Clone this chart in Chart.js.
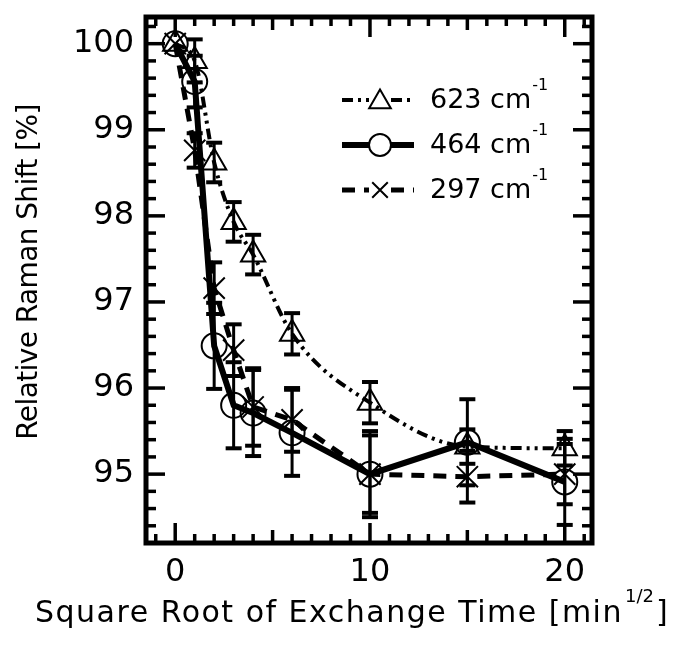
<!DOCTYPE html>
<html><head><meta charset="utf-8">
<script src="https://cdn.jsdelivr.net/npm/chart.js@4/dist/chart.umd.min.js"></script>
<style>html,body{margin:0;padding:0;background:#fff}#wrap{width:687px;height:661px;position:relative}</style>
</head><body><div id="wrap"><canvas id="c" width="687" height="661"></canvas></div>
<script>
// ---- data ----
const xValues   = [0, 1, 2, 3, 4, 6, 10, 15, 20];
const shift623  = [100, 99.8, 98.62, 97.93, 97.55, 96.63, 95.83, 95.32, 95.3];
const err623    = [0, 0.25, 0.23, 0.23, 0.23, 0.24, 0.24, 0.2, 0.2];
const shift464  = [100, 99.56, 96.49, 95.8, 95.71, 95.48, 95.0, 95.37, 94.91];
const err464    = [0, 0.3, 0.5, 0.5, 0.5, 0.5, 0.5, 0.5, 0.5];
const shift297  = [100, 98.76, 97.16, 96.44, 95.78, 95.63, 95.0, 94.97, 95.0];
const err297    = [0, 0.2, 0.3, 0.3, 0.45, 0.37, 0.45, 0.3, 0.35];
const xTickLabels = [0, 10, 20];
const yTickLabels = [95, 96, 97, 98, 99, 100];
const seriesNames = ['623', '464', '297'];
const xTitle = 'Square Root of Exchange Time [min';
const xTitleSup = '1/2';
const yTitle = 'Relative Raman Shift [%]';

const FONT = '"DejaVu Sans", sans-serif';
Chart.defaults.font.family = FONT;
Chart.defaults.color = '#000';

const mk = vals => xValues.map((x, i) => ({x, y: vals[i]}));
const styles = [
  {dash: [11,5,3,5,3,5], width: 4, point: 'triangle', r: 14},
  {dash: [], width: 6, point: 'circle', r: 12.5},
  {dash: [13,9], width: 5, point: 'crossRot', r: 15}
];
const values = [shift623, shift464, shift297];
const errors = [err623, err464, err297];
const datasets = seriesNames.map((n, i) => ({
  label: n + ' cm-1',
  data: mk(values[i]),
  errors: errors[i],
  borderColor: '#000',
  borderWidth: styles[i].width,
  borderDash: styles[i].dash,
  pointStyle: styles[i].point,
  pointRadius: styles[i].r,
  pointBorderWidth: 2,
  pointBorderColor: '#000',
  pointBackgroundColor: 'rgba(0,0,0,0)',
  tension: 0,
  cubicInterpolationMode: i === 0 ? 'monotone' : 'default',
  fill: false
}));

function seg(ctx, x1, y1, x2, y2) { ctx.beginPath(); ctx.moveTo(x1, y1); ctx.lineTo(x2, y2); ctx.stroke(); }

function marker(ctx, style, cx, cy, r) {
  ctx.save();
  ctx.lineWidth = 2; ctx.strokeStyle = '#000'; ctx.fillStyle = '#fff';
  ctx.beginPath();
  if (style === 'triangle') {
    let a = 0;
    ctx.moveTo(cx + Math.sin(a) * r, cy - Math.cos(a) * r);
    a += 2 * Math.PI / 3; ctx.lineTo(cx + Math.sin(a) * r, cy - Math.cos(a) * r);
    a += 2 * Math.PI / 3; ctx.lineTo(cx + Math.sin(a) * r, cy - Math.cos(a) * r);
    ctx.closePath(); ctx.fill(); ctx.stroke();
  } else if (style === 'circle') {
    ctx.arc(cx, cy, r, 0, Math.PI * 2); ctx.fill(); ctx.stroke();
  } else {
    const d = r * Math.SQRT1_2;
    ctx.moveTo(cx - d, cy - d); ctx.lineTo(cx + d, cy + d);
    ctx.moveTo(cx + d, cy - d); ctx.lineTo(cx - d, cy + d); ctx.stroke();
  }
  ctx.restore();
}

const decor = {
  id: 'decor',
  afterDatasetsDraw(chart) {
    const {ctx, scales: {x, y}} = chart;
    ctx.save();
    ctx.strokeStyle = '#000';
    chart.data.datasets.forEach(ds => {
      ds.errors.forEach((e, i) => {
        if (!e) return;
        const px = x.getPixelForValue(ds.data[i].x);
        const top = y.getPixelForValue(ds.data[i].y + e);
        const bot = y.getPixelForValue(ds.data[i].y - e);
        ctx.lineWidth = 3; seg(ctx, px, top, px, bot);
        ctx.lineWidth = 4; seg(ctx, px - 8, top, px + 8, top); seg(ctx, px - 8, bot, px + 8, bot);
      });
    });
    ctx.restore();
  },
  afterDraw(chart) {
    const {ctx, chartArea: a, scales: {x, y}} = chart;
    ctx.save();
    ctx.strokeStyle = '#000'; ctx.fillStyle = '#000';
    // inward ticks, x
    ctx.lineWidth = 3.5;
    for (let v = Math.ceil(x.min); v <= Math.floor(x.max); v++) {
      const p = x.getPixelForValue(v);
      const len = v % 10 === 0 ? 20 : (v % 5 === 0 ? 13 : 9);
      seg(ctx, p, a.bottom, p, a.bottom - len);
      seg(ctx, p, a.top, p, a.top + len);
    }
    // inward ticks, y (every 0.2)
    for (let k = Math.ceil(y.min * 5); k <= Math.floor(y.max * 5); k++) {
      const p = y.getPixelForValue(k / 5);
      const len = k % 5 === 0 ? 19 : 10;
      seg(ctx, a.left, p, a.left + len, p);
      seg(ctx, a.right, p, a.right - len, p);
    }
    // frame
    ctx.lineWidth = 5;
    ctx.strokeRect(a.left, a.top, a.right - a.left, a.bottom - a.top);

    // legend
    const rows = [100, 145, 190];
    const lx1 = 342, lx2 = 414, mx = 380;
    seriesNames.forEach((n, i) => {
      const st = styles[i], cy = rows[i];
      ctx.save();
      ctx.lineWidth = st.width; ctx.setLineDash(st.dash);
      seg(ctx, lx1, cy, mx - 11, cy);
      seg(ctx, mx + 11, cy, lx2, cy);
      ctx.restore();
      marker(ctx, st.point, mx, st.point === 'triangle' ? cy + 2 : cy, st.point === 'triangle' ? 12.5 : 11);
      ctx.font = '27px ' + FONT; ctx.textBaseline = 'middle'; ctx.textAlign = 'left';
      const t = n + ' cm';
      ctx.fillText(t, 430, cy + 1);
      const w = ctx.measureText(t).width;
      ctx.font = '16px ' + FONT;
      ctx.fillText('-1', 430 + w + 1, cy - 14);
    });

    // x axis title
    ctx.textBaseline = 'alphabetic'; ctx.textAlign = 'left';
    ctx.font = '30px ' + FONT;
    ctx.letterSpacing = '1.5px';
    const tw = ctx.measureText(xTitle).width;
    const sx = 35;
    ctx.fillText(xTitle, sx, 622);
    ctx.letterSpacing = '0px';
    ctx.font = '18px ' + FONT;
    const sw = ctx.measureText(xTitleSup).width;
    ctx.fillText(xTitleSup, sx + tw + 2, 602);
    ctx.font = '30px ' + FONT;
    ctx.fillText(']', sx + tw + sw + 4, 622);

    // y axis title
    ctx.font = '28px ' + FONT;
    ctx.letterSpacing = '-0.6px';
    ctx.translate(30, 272); ctx.rotate(-Math.PI / 2);
    ctx.textAlign = 'center'; ctx.textBaseline = 'middle';
    ctx.fillText(yTitle, 0, 0);
    ctx.restore();
  }
};

new Chart(document.getElementById('c'), {
  type: 'line',
  data: {datasets},
  plugins: [decor],
  options: {
    responsive: false,
    animation: false,
    events: [],
    layout: {padding: {top: 13, right: 95, left: 0, bottom: 0}},
    plugins: {legend: {display: false}, tooltip: {enabled: false}},
    scales: {
      x: {
        type: 'linear', min: -1.5, max: 21.4,
        grid: {display: false}, border: {display: false},
        ticks: {font: {size: 32}, padding: 2, color: '#000'},
        afterBuildTicks: s => { s.ticks = xTickLabels.map(v => ({value: v})); },
        afterFit: s => { s.height = 118; s.paddingLeft = 0; s.paddingRight = 0; }
      },
      y: {
        type: 'linear', min: 94.2, max: 100.31,
        grid: {display: false}, border: {display: false},
        ticks: {font: {size: 32}, padding: 4, color: '#000'},
        afterBuildTicks: s => { s.ticks = yTickLabels.map(v => ({value: v})); },
        afterFit: s => { s.width = 146; s.paddingTop = 0; s.paddingBottom = 0; }
      }
    }
  }
});
</script></body></html>
